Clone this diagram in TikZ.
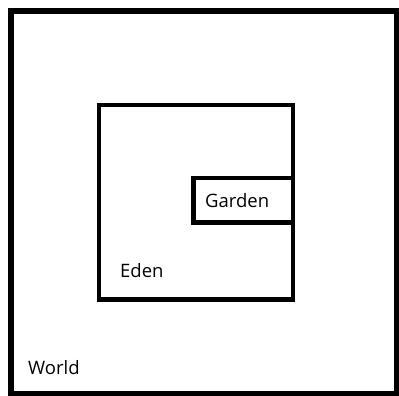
\documentclass[tikz,border=0pt]{standalone}
\usepackage{fontspec}
\setmainfont{Open Sans}
\begin{document}
\begin{tikzpicture}[x=1pt,y=-1pt]
        \useasboundingbox (0,0) rectangle (399,396);
        % World
        \draw[line width=6pt] (10.5,11.5) rectangle (396.5,394);
        % Eden
        \draw[line width=4.5pt] (99,105) rectangle (293,299.5);
        % Garden
        \draw[line width=4.5pt] (193.5,178) rectangle (293,222.5);
        % Labels
        \node[anchor=base west, inner sep=0pt, font=\fontsize{18.5}{22}\selectfont] (garden) at (205,207) {Garden};
        \node[anchor=base west, inner sep=0pt, font=\fontsize{18.5}{22}\selectfont] (eden) at (120,277) {Eden};
        \node[anchor=base west, inner sep=0pt, font=\fontsize{18.5}{22}\selectfont] (world) at (28,374.5) {World};
      \end{tikzpicture}
\end{document}
